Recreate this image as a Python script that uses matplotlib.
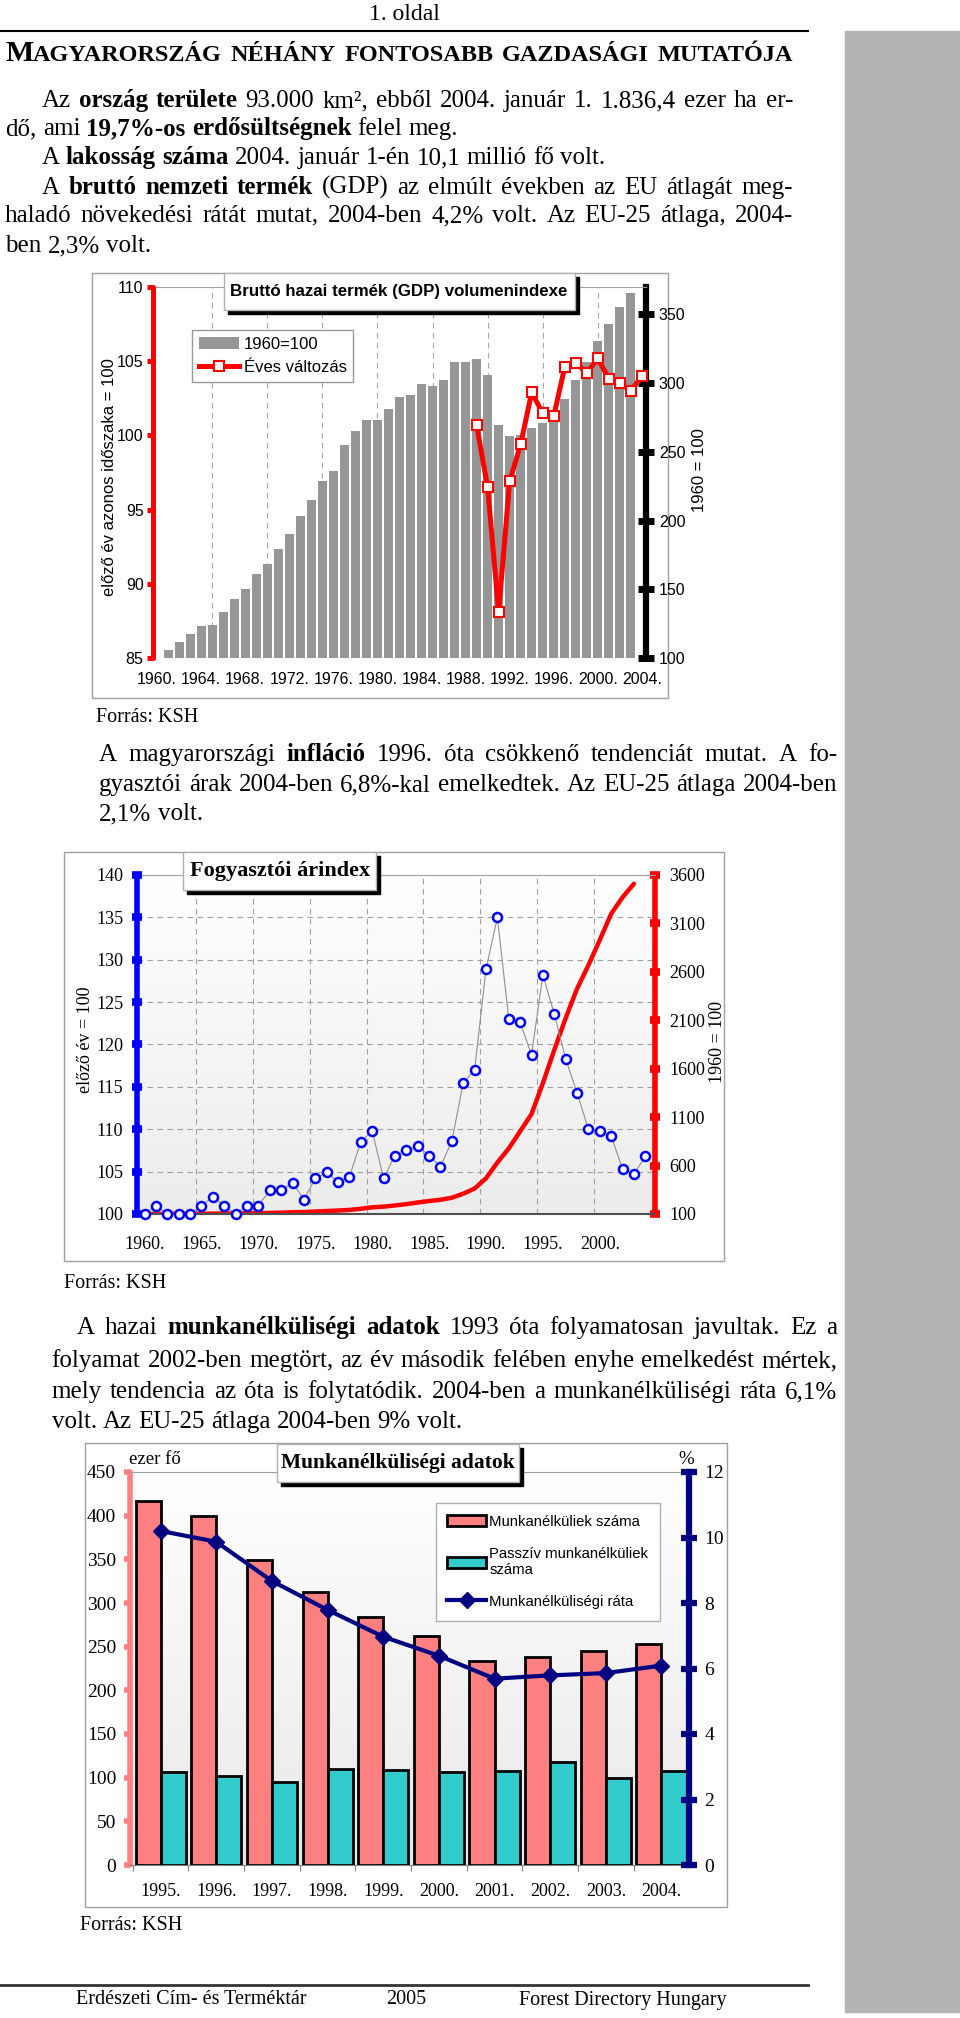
import numpy as np
import matplotlib
matplotlib.use('Agg')
import matplotlib.pyplot as plt
from matplotlib.patches import Rectangle
from matplotlib.lines import Line2D
from matplotlib.colors import LinearSegmentedColormap
from matplotlib import font_manager

# --- data: GDP volume index (1960=100) and annual change ---
gdp_years = list(range(1960, 2004))
gdp_index = [100, 105.6, 111.4, 117.5, 123.3, 124.3, 133.6, 143.3, 150.3, 161.0,
             168.3, 179.3, 190.2, 203.4, 215.3, 228.6, 236.4, 254.7, 265.4, 273.2,
             273.2, 281.4, 289.7, 291.1, 299.4, 298.2, 302.3, 315.2, 315.2, 317.7,
             306.2, 269.5, 261.5, 262.0, 267.3, 271.0, 275.3, 288.2, 302.1, 315.5,
             330.5, 343.4, 355.3, 365.3]
gdp_change_years = list(range(1989, 2005))
gdp_change = [100.7, 96.5, 88.1, 96.9, 99.4, 102.9, 101.5, 101.3, 104.6, 104.9,
              104.2, 105.2, 103.8, 103.5, 103.0, 104.0]
gdp_label_years = list(range(1960, 2005, 4))
gdp_grid_years = list(range(1965, 2001, 5))
gdp_left_ticks = [85, 90, 95, 100, 105, 110]
gdp_right_ticks = [100, 150, 200, 250, 300, 350]

# --- data: consumer price index ---
cpi_years = list(range(1960, 2005))
cpi_prev = [100.0, 101.0, 100.0, 100.0, 100.0, 101.0, 102.0, 101.0, 100.0, 101.0,
            101.0, 102.8, 102.8, 103.7, 101.7, 104.2, 104.9, 103.8, 104.4, 108.5,
            109.8, 104.2, 106.9, 107.5, 108.0, 106.9, 105.6, 108.6, 115.5, 117.0,
            128.9, 135.0, 123.0, 122.6, 118.8, 128.2, 123.6, 118.3, 114.3, 110.0,
            109.8, 109.2, 105.3, 104.7, 106.8]
cpi_base_years = list(range(1960, 2004))
cpi_base = [100, 101, 101, 101, 101, 102, 104, 105, 105, 106,
            108, 111, 114, 118, 120, 125, 131, 136, 142, 154,
            169, 176, 188, 202, 219, 234, 247, 268, 310, 363,
            468, 632, 777, 953, 1132, 1451, 1794, 2122, 2426, 2669,
            2930, 3200, 3370, 3510]
cpi_label_years = list(range(1960, 2001, 5))
cpi_grid_years = [1964.5, 1969.5, 1974.5, 1979.5, 1984.5, 1989.5, 1994.5, 1999.5]
cpi_left_ticks = [100, 105, 110, 115, 120, 125, 130, 135, 140]
cpi_right_ticks = [100, 600, 1100, 1600, 2100, 2600, 3100, 3600]

# --- data: unemployment ---
u_years = ['1995.', '1996.', '1997.', '1998.', '1999.', '2000.', '2001.', '2002.', '2003.', '2004.']
u_total = [416.4, 399.7, 349.0, 313.0, 284.4, 262.7, 233.3, 238.7, 244.8, 253.1]
u_passive = [106.6, 101.6, 95.2, 110.0, 108.9, 106.6, 108.1, 117.6, 99.7, 108.1]
u_rate = [10.2, 9.87, 8.67, 7.79, 6.97, 6.39, 5.69, 5.79, 5.86, 6.09]
u_left_ticks = list(range(0, 451, 50))
u_right_ticks = list(range(0, 13, 2))

W, H = 960, 2018
SERIF = 'Liberation Serif'
names = {f.name for f in font_manager.fontManager.ttflist}
if 'Liberation Sans Narrow' in names:
    SANS = 'Liberation Sans Narrow'
    FS_N = 13
else:
    SANS = 'Liberation Sans'
    FS_N = 11.5
BODY = 18

fig = plt.figure(figsize=(9.6, 20.18), dpi=100)
renderer = fig.canvas.get_renderer()


def fx(x):
    return x / W


def fy(y):
    return 1 - y / H


def box(x0, y0, x1, y1):
    return [fx(x0), fy(y1), (x1 - x0) / W, (y1 - y0) / H]


def frame(x0, y0, x1, y1):
    fig.add_artist(Rectangle((fx(x0), fy(y1)), (x1 - x0) / W, (y1 - y0) / H,
                             transform=fig.transFigure, fill=False,
                             edgecolor='#a0a0a0', lw=1, zorder=-1))


def title_box(x0, y0, x1, y1, text, **kw):
    fig.add_artist(Rectangle((fx(x0 + 4), fy(y1 + 4)), (x1 - x0) / W, (y1 - y0) / H,
                             transform=fig.transFigure, color='black', zorder=5))
    fig.add_artist(Rectangle((fx(x0), fy(y1)), (x1 - x0) / W, (y1 - y0) / H,
                             transform=fig.transFigure, facecolor='white',
                             edgecolor='#b0b0b0', lw=1, zorder=6))
    fig.text(fx((x0 + x1) / 2), fy((y0 + y1) / 2), text, ha='center', va='center',
             zorder=7, weight='bold', **kw)


def gradient(ax, top='white', bottom='#e6e6e6'):
    cmap = LinearSegmentedColormap.from_list('bg', [top, bottom])
    ax.imshow(np.linspace(0, 1, 256).reshape(-1, 1), cmap=cmap, extent=[0, 1, 0, 1],
              transform=ax.transAxes, aspect='auto', origin='upper', zorder=0)


def width_of(s, weight, size):
    t = fig.text(0, 0, s, fontsize=size, weight=weight, family=SERIF)
    w = t.get_window_extent(renderer).width
    t.remove()
    return w


def draw_line(y, x0, segs, x1=None, size=BODY):
    # split segments into words; pieces without a space between them stay together
    words = [[]]
    for seg in segs:
        text, weight = seg[0], seg[1]
        sz = seg[2] if len(seg) > 2 else size
        for k, p in enumerate(text.split(' ')):
            if k > 0:
                words.append([])
            if p:
                words[-1].append((p, weight, sz))
    words = [w for w in words if w]
    widths = [[width_of(p, wt, sz) for p, wt, sz in w] for w in words]
    total = sum(sum(ws) for ws in widths)
    space = size * 100 / 72 * 0.25
    if x1 is not None and len(words) > 1:
        gap = max((x1 - x0 - total) / (len(words) - 1), space * 0.5)
    else:
        gap = space
    x = x0
    for w, ws in zip(words, widths):
        for (p, wt, sz), pw in zip(w, ws):
            fig.text(fx(x), fy(y), p, fontsize=sz, weight=wt, family=SERIF,
                     ha='left', va='baseline')
            x += pw
        x += gap


N, B = 'normal', 'bold'

# --- page furniture ---
fig.add_artist(Rectangle((fx(845), fy(2012)), 115 / W, (2012 - 31) / H,
                         transform=fig.transFigure, color='#b4b4b4', zorder=-2))
fig.add_artist(Line2D([0, fx(808)], [fy(31)] * 2, color='black', lw=1.5))
fig.add_artist(Line2D([0, fx(808)], [fy(1985)] * 2, color='#333333', lw=2))
fig.text(fx(404), fy(15), '1. oldal', ha='center', va='center', fontsize=17, family=SERIF)

draw_line(61, 5, [('M', B, 21.5), ('AGYARORSZÁG NÉHÁNY FONTOSABB GAZDASÁGI MUTATÓJA', B, 17.5)], x1=793)

draw_line(107, 41.6, [('Az ', N), ('ország területe', B),
                      (' 93.000 km², ebből 2004. január 1. 1.836,4 ezer ha er-', N)], x1=793)
draw_line(135, 5, [('dő, ami ', N), ('19,7%-os erdősültségnek', B), (' felel meg.', N)])
draw_line(164, 41.6, [('A ', N), ('lakosság száma', B), (' 2004. január 1-én 10,1 millió fő volt.', N)])
draw_line(194, 41.6, [('A ', N), ('bruttó nemzeti termék', B),
                      (' (GDP) az elmúlt években az EU átlagát meg-', N)], x1=793)
draw_line(222, 5, [('haladó növekedési rátát mutat, 2004-ben 4,2% volt. Az EU-25 átlaga, 2004-', N)], x1=793)
draw_line(252, 5, [('ben 2,3% volt.', N)])

draw_line(761, 99, [('A magyarországi ', N), ('infláció', B),
                    (' 1996. óta csökkenő tendenciát mutat. A fo-', N)], x1=837)
draw_line(791, 99, [('gyasztói árak 2004-ben 6,8%-kal emelkedtek. Az EU-25 átlaga 2004-ben', N)], x1=837)
draw_line(820, 99, [('2,1% volt.', N)])

draw_line(1334, 77, [('A hazai ', N), ('munkanélküliségi adatok', B),
                     (' 1993 óta folyamatosan javultak. Ez a', N)], x1=837)
draw_line(1367, 51.5, [('folyamat 2002-ben megtört, az év második felében enyhe emelkedést mértek,', N)], x1=837)
draw_line(1398, 51.5, [('mely tendencia az óta is folytatódik. 2004-ben a munkanélküliségi ráta 6,1%', N)], x1=837)
draw_line(1428, 51.5, [('volt. Az EU-25 átlaga 2004-ben 9% volt.', N)])

for x, y in [(96.5, 718), (64, 1284), (80, 1925)]:
    fig.text(fx(x), fy(y), 'Forrás: KSH', ha='left', va='center', fontsize=14.5, family=SERIF)

fig.text(fx(76.5), fy(2000), 'Erdészeti Cím- és Terméktár', ha='left', va='center', fontsize=14.5, family=SERIF)
fig.text(fx(386), fy(2000), '2005', ha='left', va='center', fontsize=14.5, family=SERIF)
fig.text(fx(519), fy(2000), 'Forest Directory Hungary', ha='left', va='center', fontsize=14.5, family=SERIF)

# --- GDP chart ---
frame(91.8, 273, 668, 698)
ax_g = fig.add_axes(box(153.3, 287, 645.7, 658))
ax_gl = ax_g.twinx()
bars_g = ax_g.bar(gdp_years, gdp_index, width=0.82, color='#969696', zorder=2)
for yr in gdp_grid_years:
    ax_g.axvline(yr, color='#a6a6a6', lw=0.8, ls=(0, (5, 4)), zorder=1)
ax_g.set_xlim(1959.65, 2004.35)
ax_g.set_ylim(100, 370)
ax_g.set_yticks(gdp_right_ticks)
ax_g.yaxis.tick_right()
ax_g.set_xticks(gdp_label_years, [f'{y}.' for y in gdp_label_years])
ax_g.tick_params(axis='x', length=0, pad=10, labelsize=FS_N, labelfontfamily=SANS)
ax_g.tick_params(axis='y', direction='inout', length=11, width=5, color='black', pad=4,
                 labelsize=FS_N, labelfontfamily=SANS)
ax_g.spines['left'].set_visible(False)
ax_g.spines['bottom'].set_visible(False)
ax_g.spines['top'].set_color('#a0a0a0')
ax_g.spines['right'].set_linewidth(4.5)

line_g, = ax_gl.plot(gdp_change_years, gdp_change, color='red', lw=3.6, marker='s', ms=6.5,
                     mfc='white', mec='red', mew=1.5, zorder=3, clip_on=False)
ax_gl.set_ylim(85, 110)
ax_gl.set_yticks(gdp_left_ticks)
ax_gl.yaxis.tick_left()
ax_gl.tick_params(axis='y', direction='out', length=4, width=3.6, color='red', pad=3,
                  labelsize=FS_N, labelfontfamily=SANS)
for s in ['right', 'top', 'bottom']:
    ax_gl.spines[s].set_visible(False)
ax_gl.spines['left'].set_color('red')
ax_gl.spines['left'].set_linewidth(3.6)
ax_gl.spines['left'].set_capstyle('round')
ax_gl.legend([bars_g, line_g], ['1960=100', 'Éves változás'], loc='upper left',
             bbox_to_anchor=(fx(192), fy(330)), bbox_transform=fig.transFigure,
             fancybox=False, edgecolor='#999999', framealpha=1, borderaxespad=0,
             borderpad=0.4, handlelength=2.4, handleheight=0.8, handletextpad=0.3,
             labelspacing=0.5, prop={'family': SANS, 'size': FS_N + 0.5})
fig.text(fx(109), fy(477), 'előző év azonos időszaka = 100', rotation=90, ha='center',
         va='center', fontsize=FS_N + 0.5, family=SANS)
fig.text(fx(699), fy(470), '1960 = 100', rotation=90, ha='center', va='center',
         fontsize=FS_N + 0.5, family=SANS)
title_box(223.5, 273.3, 574.8, 310, 'Bruttó hazai termék (GDP) volumenindexe',
          fontsize=FS_N + 0.7, family=SANS)

# --- CPI chart ---
frame(64, 852, 724, 1261)
ax_c = fig.add_axes(box(137.3, 875, 655, 1214))
ax_c2 = ax_c.twinx()
gradient(ax_c, 'white', '#ececec')
grid_tr = matplotlib.transforms.blended_transform_factory(ax_c.transAxes, ax_c2.transData)
for v in cpi_left_ticks[1:-1]:
    ax_c.plot([0, 1], [v, v], transform=grid_tr, color='#a0a0a0', lw=0.8, ls=(0, (5, 4)), zorder=1)
for yr in cpi_grid_years:
    ax_c.axvline(yr, color='#a0a0a0', lw=0.8, ls=(0, (5, 4)), zorder=1)
ax_c.plot(cpi_base_years, cpi_base, color='red', lw=3.2, zorder=2, solid_capstyle='round')
ax_c.set_xlim(1959.36, 2004.85)
ax_c.set_ylim(100, 3600)
ax_c.set_yticks(cpi_right_ticks)
ax_c.yaxis.tick_right()
ax_c.set_xticks(cpi_label_years, [f'{y}.' for y in cpi_label_years])
ax_c.tick_params(axis='x', length=0, pad=16, labelsize=13, labelfontfamily=SERIF)
ax_c.tick_params(axis='y', direction='inout', length=6.5, width=5.5, color='red', pad=7,
                 labelsize=13, labelfontfamily=SERIF)
ax_c.spines['left'].set_visible(False)
ax_c.spines['top'].set_color('#a0a0a0')
ax_c.spines['bottom'].set_color('#505050')
ax_c.spines['bottom'].set_linewidth(1.5)
ax_c.spines['right'].set_color('red')
ax_c.spines['right'].set_linewidth(4)

ax_c2.plot(cpi_years, cpi_prev, color='#909090', lw=0.8, marker='o', ms=6.5,
           mfc='white', mec='#0000ff', mew=1.8, zorder=3, clip_on=False)
ax_c2.set_ylim(100, 140)
ax_c2.set_yticks(cpi_left_ticks)
ax_c2.yaxis.tick_left()
ax_c2.tick_params(axis='y', direction='inout', length=6.5, width=5.5, color='#0000ff', pad=7,
                  labelsize=13, labelfontfamily=SERIF)
for s in ['right', 'top', 'bottom']:
    ax_c2.spines[s].set_visible(False)
ax_c2.spines['left'].set_color('#0000ff')
ax_c2.spines['left'].set_linewidth(4)
fig.text(fx(85), fy(1040), 'előző év = 100', rotation=90, ha='center', va='center',
         fontsize=13, family=SERIF)
fig.text(fx(717), fy(1042), '1960 = 100', rotation=90, ha='center', va='center',
         fontsize=13, family=SERIF)
title_box(183.4, 851.7, 375.9, 890, 'Fogyasztói árindex', fontsize=16, family=SERIF)

# --- unemployment chart ---
frame(84.5, 1443, 726.7, 1907)
ax_u = fig.add_axes(box(130, 1472, 689.3, 1865))
ax_u2 = ax_u.twinx()
gradient(ax_u, 'white', '#e8e8e8')
xc = np.arange(len(u_years)) + 0.5
bars_t = ax_u.bar(xc - 0.225, u_total, width=0.45, color='#ff8080', edgecolor='black', lw=2, zorder=2)
bars_p = ax_u.bar(xc + 0.225, u_passive, width=0.45, color='#33cccc', edgecolor='black', lw=2, zorder=2)
ax_u.set_xlim(-0.05, 10)
ax_u.set_ylim(0, 450)
ax_u.set_yticks(u_left_ticks)
ax_u.yaxis.tick_left()
ax_u.set_xticks(xc, u_years)
ax_u.set_xticks(np.arange(0, 10), minor=True)
ax_u.tick_params(axis='x', which='major', length=0, pad=13, labelsize=13, labelfontfamily=SERIF)
ax_u.tick_params(axis='x', which='minor', length=4, color='#808080', width=0.8)
ax_u.tick_params(axis='y', direction='out', length=4, width=4, color='#ff8080', pad=6,
                 labelsize=14, labelfontfamily=SERIF)
ax_u.spines['right'].set_visible(False)
ax_u.spines['top'].set_color('#a0a0a0')
ax_u.spines['bottom'].set_color('#808080')
ax_u.spines['left'].set_color('#ff8080')
ax_u.spines['left'].set_linewidth(4)
ax_u.spines['left'].set_capstyle('round')

line_u, = ax_u2.plot(xc, u_rate, color='#000080', lw=3, marker='D', ms=8.5, zorder=3)
ax_u2.set_ylim(0, 12)
ax_u2.set_yticks(u_right_ticks)
ax_u2.tick_params(axis='y', direction='inout', length=11.5, width=4.5, color='#000080', pad=5,
                  labelsize=14, labelfontfamily=SERIF)
for s in ['left', 'top', 'bottom']:
    ax_u2.spines[s].set_visible(False)
ax_u2.spines['right'].set_color('#000080')
ax_u2.spines['right'].set_linewidth(4.5)
ax_u2.legend([bars_t, bars_p, line_u],
             ['Munkanélküliek száma', 'Passzív munkanélküliek\nszáma', 'Munkanélküliségi ráta'],
             loc='upper left', bbox_to_anchor=(fx(435.6), fy(1503)), bbox_transform=fig.transFigure,
             fancybox=False, edgecolor='#b0b0b0', framealpha=1, borderaxespad=0,
             borderpad=0.8, handlelength=2.6, handleheight=0.75, handletextpad=0.2,
             labelspacing=1.2, prop={'family': SANS, 'size': FS_N - 0.8})
fig.text(fx(155), fy(1459), 'ezer fő', ha='center', va='center', fontsize=13.5, family=SERIF)
fig.text(fx(686), fy(1460), '%', ha='center', va='center', fontsize=13.5, family=SERIF)
title_box(277, 1444, 518.6, 1481.7, 'Munkanélküliségi adatok', fontsize=15.5, family=SERIF)

fig.savefig('out.png', dpi=100)
